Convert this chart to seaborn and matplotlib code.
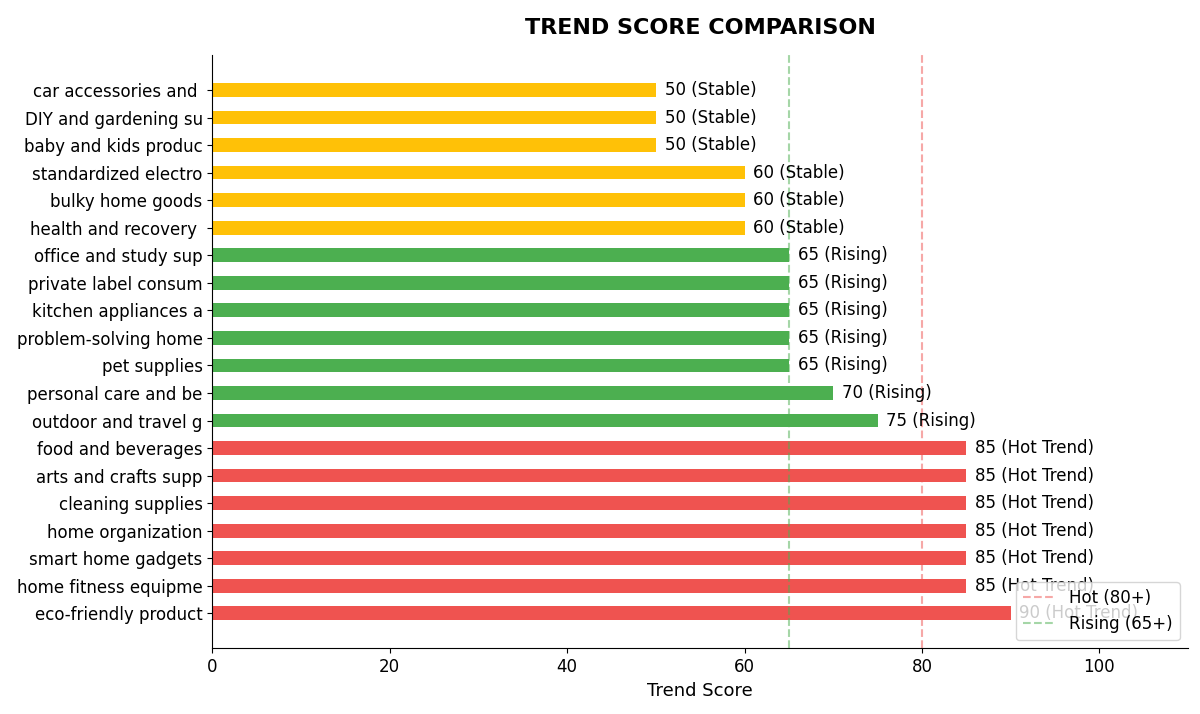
import matplotlib
matplotlib.use("Agg")
import matplotlib.pyplot as plt
import seaborn as sns
import pandas as pd

categories = ["car accessories and ", "DIY and gardening su", "baby and kids produc",
              "standardized electro", "bulky home goods", "health and recovery ",
              "office and study sup", "private label consum", "kitchen appliances a",
              "problem-solving home", "pet supplies", "personal care and be",
              "outdoor and travel g", "food and beverages", "arts and crafts supp",
              "cleaning supplies", "home organization", "smart home gadgets",
              "home fitness equipme", "eco-friendly product"]
scores = [50, 50, 50, 60, 60, 60, 65, 65, 65, 65, 65, 70, 75, 85, 85, 85, 85, 85, 85, 90]
statuses = ["Stable"] * 6 + ["Rising"] * 7 + ["Hot Trend"] * 7
colors_map = {"Stable": "#FFC107", "Rising": "#4CAF50", "Hot Trend": "#EF5350"}

df = pd.DataFrame({"cat": categories, "score": scores, "status": statuses})

fig, ax = plt.subplots(figsize=(12, 7.14), dpi=100)
sns.barplot(data=df, y="cat", x="score", hue="cat", order=categories,
            palette=[colors_map[s] for s in statuses], width=0.5, saturation=1,
            legend=False, ax=ax)
for i, (s, st) in enumerate(zip(scores, statuses)):
    ax.text(s + 1, i, f"{s} ({st})", va="center", ha="left", fontsize=12)
ax.axvline(80, color="#EF5350", ls="--", alpha=0.5, lw=1.5, label="Hot (80+)")
ax.axvline(65, color="#4CAF50", ls="--", alpha=0.5, lw=1.5, label="Rising (65+)")
leg = ax.legend(loc="lower right", fontsize=12)
leg.set_zorder(10)
ax.set_xlim(0, 110)
ax.set_ylim(len(categories) - 1 + 1.27, -1.27)
ax.set_xlabel("Trend Score", fontsize=13)
ax.set_ylabel("")
ax.set_title("TREND SCORE COMPARISON", fontsize=16, fontweight="bold", pad=15)
ax.tick_params(axis="y", labelsize=12)
ax.tick_params(axis="x", labelsize=12)
for sp in ["top", "right"]:
    ax.spines[sp].set_visible(False)
plt.subplots_adjust(left=0.177, right=0.99, top=0.923, bottom=0.092)
fig.savefig("out.png", dpi=100)
